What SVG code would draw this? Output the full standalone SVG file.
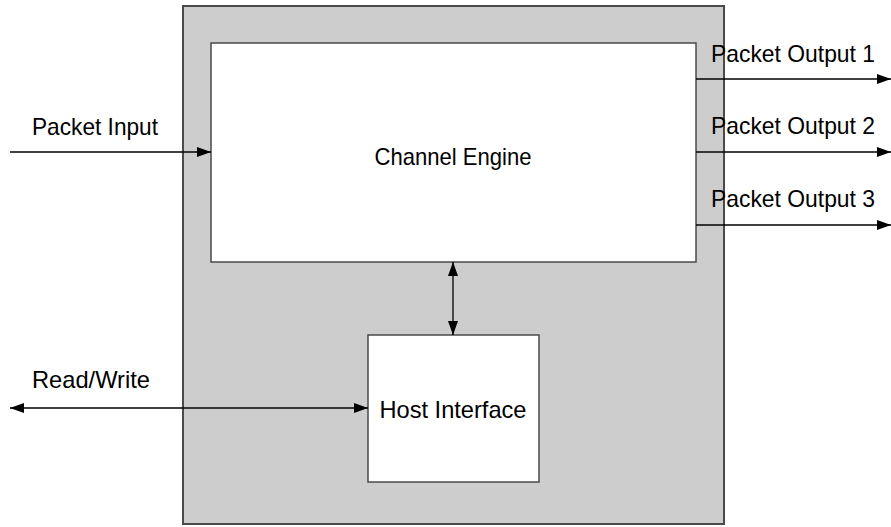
<svg xmlns="http://www.w3.org/2000/svg" width="891" height="527" viewBox="0 0 891 527">
<style>
.box{fill:#fff;stroke:#4a4a4a;stroke-width:1.5}
.outer{fill:#cdcdcd;stroke:#4a4a4a;stroke-width:2}
.ln{stroke:#000;stroke-width:1.3;fill:none}
.t{font-family:"Liberation Sans",Arial,sans-serif;font-size:24px;fill:#000}
</style>
<defs>
<marker id="ah" viewBox="0 0 14 10" refX="14" refY="5" markerWidth="14" markerHeight="10" markerUnits="userSpaceOnUse" orient="auto-start-reverse">
<path d="M0,0 L14,5 L0,10 Z" fill="#000"/>
</marker>
</defs>
<g id="system"><rect class="outer" x="183" y="6" width="541" height="518"/></g>
<g id="channel-engine">
<rect class="box" x="211" y="43" width="485" height="219"/>
<text class="t" x="453" y="165" text-anchor="middle" textLength="157" lengthAdjust="spacingAndGlyphs">Channel Engine</text>
</g>
<g id="host-interface">
<rect class="box" x="368" y="335" width="171" height="147"/>
<text class="t" x="453" y="418" text-anchor="middle" textLength="147" lengthAdjust="spacingAndGlyphs">Host Interface</text>
</g>
<g id="connectors">
<line class="ln" x1="10" y1="152" x2="211" y2="152" marker-end="url(#ah)"/>
<line class="ln" x1="10" y1="408" x2="368" y2="408" marker-start="url(#ah)" marker-end="url(#ah)"/>
<line class="ln" x1="453" y1="262" x2="453" y2="335" marker-start="url(#ah)" marker-end="url(#ah)"/>
<line class="ln" x1="696" y1="79" x2="891" y2="79" marker-end="url(#ah)"/>
<line class="ln" x1="696" y1="152" x2="891" y2="152" marker-end="url(#ah)"/>
<line class="ln" x1="696" y1="225" x2="891" y2="225" marker-end="url(#ah)"/>
</g>
<g id="labels">
<text class="t" x="32" y="135" textLength="126" lengthAdjust="spacingAndGlyphs">Packet Input</text>
<text class="t" x="32" y="388" textLength="118" lengthAdjust="spacingAndGlyphs">Read/Write</text>
<text class="t" x="711" y="62" textLength="164" lengthAdjust="spacingAndGlyphs">Packet Output 1</text>
<text class="t" x="711" y="134" textLength="164" lengthAdjust="spacingAndGlyphs">Packet Output 2</text>
<text class="t" x="711" y="207" textLength="164" lengthAdjust="spacingAndGlyphs">Packet Output 3</text>
</g>
</svg>
